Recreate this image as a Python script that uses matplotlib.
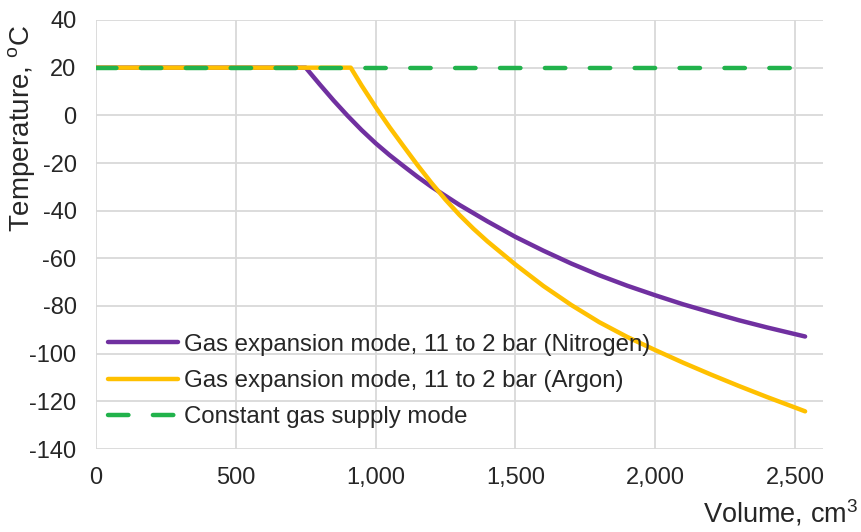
import matplotlib.pyplot as plt
from matplotlib.ticker import FuncFormatter

plt.rcParams['font.family'] = ['Liberation Sans', 'DejaVu Sans']
plt.rcParams['axes.unicode_minus'] = False

# nitrogen expansion curve (volume cm3, temperature C)
vol_n2 = [0, 750, 800, 850, 900, 950, 1000, 1050, 1100, 1150, 1200, 1300, 1400, 1500, 1600,
          1700, 1800, 1900, 2000, 2100, 2200, 2300, 2400, 2500, 2536]
temp_n2 = [20, 20, 13, 6.2, -0.2, -6.2, -11.7, -16.7, -21.3, -25.8, -30, -37.6, -44.5, -51,
           -56.8, -62.2, -67.1, -71.5, -75.5, -79.3, -82.7, -86, -89, -91.8, -92.8]

# argon expansion curve
vol_ar = [0, 911, 950, 1000, 1050, 1100, 1150, 1200, 1250, 1300, 1350, 1400, 1500, 1600,
          1700, 1800, 1900, 2000, 2100, 2200, 2300, 2400, 2500, 2536]
temp_ar = [20, 20, 12.5, 3.5, -5, -13, -20.9, -28.4, -35.4, -41.8, -47.6, -52.9, -62.6, -71.6,
           -79.6, -86.8, -93, -98.5, -103.8, -108.8, -113.6, -118.2, -122.6, -124.2]

# constant supply
vol_const = [0, 2536]
temp_const = [20, 20]

labels = ["Gas expansion mode, 11 to 2 bar (Nitrogen)",
          "Gas expansion mode, 11 to 2 bar (Argon)",
          "Constant gas supply mode"]

fig = plt.figure(figsize=(8.62, 5.32), dpi=100)
ax = fig.add_axes([96/862, 1-449/532, (823-96)/862, (449-20)/532])

ax.plot(vol_n2, temp_n2, color="#7030A0", lw=3.2, solid_capstyle='round',
        solid_joinstyle='round', label=labels[0])
ax.plot(vol_ar, temp_ar, color="#FFC000", lw=3.2, solid_capstyle='round',
        solid_joinstyle='round', label=labels[1])
ax.plot(vol_const, temp_const, color="#21B24B", lw=3.2, dashes=(4.6, 5.5),
        dash_capstyle='round', label=labels[2])

ax.set_xlim(0, 2600)
ax.set_ylim(-140, 40)
ax.set_xticks([0, 500, 1000, 1500, 2000, 2500])
ax.set_yticks(range(-140, 41, 20))
ax.xaxis.set_major_formatter(FuncFormatter(lambda v, p: f"{int(v):,}"))
for s in ax.spines.values():
    s.set_visible(False)
ax.grid(True, color="#D9D9D9", lw=1.3)
ax.set_axisbelow(True)
ax.tick_params(length=0, labelsize=17, colors="#262626")
ax.tick_params(axis='x', pad=13)
ax.tick_params(axis='y', pad=14)

fig.text(22/862, 1-25/532, "Temperature, $^\\mathregular{o}$C", rotation=90,
         ha='center', va='top', fontsize=20, color="#262626")
fig.text(858/862, 1-528/532, "Volume, cm$^\\mathregular{3}$", ha='right', va='bottom',
         fontsize=19.5, color="#262626")

ax.legend(loc='center left', bbox_to_anchor=(108/862, 1-381/532), bbox_transform=fig.transFigure,
          borderaxespad=0, borderpad=0, frameon=False, fontsize=17.3,
          handlelength=2.9, handletextpad=0.25, labelspacing=0.6, labelcolor="#262626")

fig.savefig("out.png", dpi=100)
